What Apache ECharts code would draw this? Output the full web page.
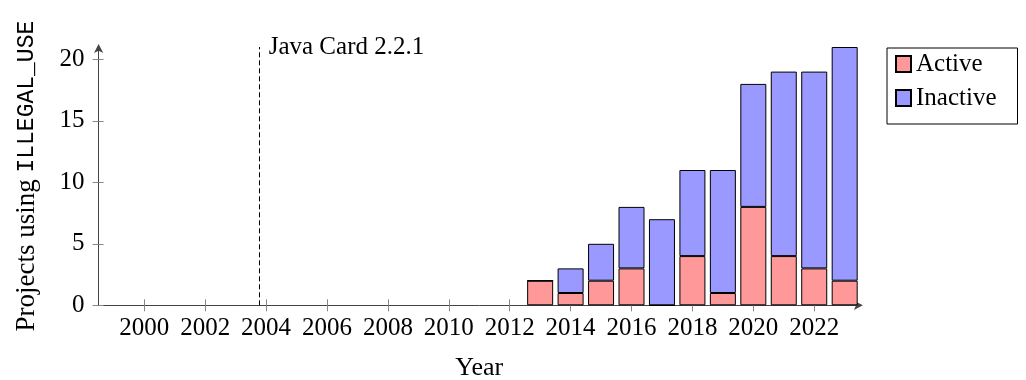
<!DOCTYPE html>
<html>
<head>
<meta charset="utf-8">
<script src="https://cdn.jsdelivr.net/npm/echarts@6/dist/echarts.min.js"></script>
<style>html,body{margin:0;padding:0;background:#fff}#c{width:1026px;height:380px}</style>
</head>
<body>
<div id="c"></div>
<script>
const categories = [1999, 2000, 2001, 2002, 2003, 2004, 2005, 2006, 2007, 2008, 2009, 2010, 2011,
                    2012, 2013, 2014, 2015, 2016, 2017, 2018, 2019, 2020, 2021, 2022, 2023];
const years = [2013, 2014, 2015, 2016, 2017, 2018, 2019, 2020, 2021, 2022, 2023];
const active = [2, 1, 2, 3, 0, 4, 1, 8, 4, 3, 2];
const inactive = [0, 2, 3, 5, 7, 7, 10, 10, 15, 16, 19];
const xTicks = [2000, 2002, 2004, 2006, 2008, 2010, 2012, 2014, 2016, 2018, 2020, 2022];
const yTicks = [0, 5, 10, 15, 20];
const eventYear = 2003.79;
const eventLabel = 'Java Card 2.2.1';

const SERIF = '"Liberation Serif", "DejaVu Serif", serif';
const MONO = '"Liberation Mono", "DejaVu Sans Mono", monospace';
const X_MIN = categories[0] - 0.5, X_MAX = categories[categories.length - 1] + 0.5, Y_MAX = 21;

const chart = echarts.init(document.getElementById('c'), null, {renderer: 'canvas'});
const align = arr => categories.map(c => { const i = years.indexOf(c); return i >= 0 ? arr[i] : '-'; });

const baseX = {type: 'value', min: X_MIN, max: X_MAX, gridIndex: 0, position: 'bottom', splitLine: {show: false}};
const baseY = {type: 'value', min: 0, max: Y_MAX, gridIndex: 0, position: 'left', splitLine: {show: false}};

chart.setOption({
  animation: false,
  backgroundColor: '#fff',
  grid: {left: 98.6, right: 1026 - 859.9, top: 47, bottom: 74.7, containLabel: false, outerBoundsMode: 'none'},
  legend: {
    orient: 'vertical', left: 887, top: 48,
    padding: [3, 21, 13, 8], itemGap: 8,
    itemWidth: 15, itemHeight: 16, icon: 'rect',
    borderColor: '#000', borderWidth: 1,
    textStyle: {fontFamily: SERIF, fontSize: 25, color: '#000', lineHeight: 26},
    data: ['Active', 'Inactive']
  },
  xAxis: [
    Object.assign({}, baseX, {
      name: 'Year', nameLocation: 'middle', nameGap: 50,
      nameTextStyle: {fontFamily: SERIF, fontSize: 26, color: '#000'},
      axisLine: {show: true, lineStyle: {color: '#444', width: 1}, symbol: ['none', 'arrow'], symbolSize: [7, 9], symbolOffset: [0, 3]},
      axisTick: {show: true, inside: false, length: 6, lineStyle: {color: '#888'}, customValues: xTicks},
      axisLabel: {show: true, margin: 11, fontFamily: SERIF, fontSize: 25, color: '#000', customValues: xTicks,
                  formatter: v => String(v)}
    }),
    Object.assign({}, baseX, {
      axisLine: {show: false},
      axisTick: {show: true, inside: true, length: 6, lineStyle: {color: '#888'}, customValues: xTicks},
      axisLabel: {show: false}
    }),
    {
      type: 'category', data: categories, gridIndex: 0, position: 'bottom', boundaryGap: true,
      axisLine: {show: false}, axisTick: {show: false}, axisLabel: {show: false}, splitLine: {show: false}
    }
  ],
  yAxis: [
    Object.assign({}, baseY, {
      name: '{a|Projects using }{b|ILLEGAL_USE}', nameLocation: 'middle', nameGap: 58, nameRotate: 90,
      nameTextStyle: {
        rich: {
          a: {fontFamily: SERIF, fontSize: 27, color: '#000'},
          b: {fontFamily: MONO, fontSize: 23, color: '#000'}
        }
      },
      axisLine: {show: true, lineStyle: {color: '#444', width: 1}, symbol: ['none', 'arrow'], symbolSize: [7, 9], symbolOffset: [0, 3]},
      axisTick: {show: true, inside: false, length: 6, lineStyle: {color: '#888'}, customValues: yTicks},
      axisLabel: {show: true, margin: 14, padding: [2, 0, 0, 0], fontFamily: SERIF, fontSize: 25, color: '#000', customValues: yTicks}
    }),
    Object.assign({}, baseY, {
      axisLine: {show: false},
      axisTick: {show: true, inside: true, length: 5, lineStyle: {color: '#888'}, customValues: yTicks},
      axisLabel: {show: false}
    })
  ],
  series: [
    {
      name: 'Active', type: 'bar', stack: 'total', xAxisIndex: 2, yAxisIndex: 0,
      barWidth: 26,
      itemStyle: {color: '#ff9999', borderColor: '#000', borderWidth: 1},
      data: align(active)
    },
    {
      name: 'Inactive', type: 'bar', stack: 'total', xAxisIndex: 2, yAxisIndex: 0,
      barWidth: 26,
      itemStyle: {color: '#9999ff', borderColor: '#000', borderWidth: 1},
      data: align(inactive)
    },
    {
      name: 'event', type: 'scatter', xAxisIndex: 0, yAxisIndex: 0, data: [],
      markLine: {
        silent: true, symbol: ['none', 'none'],
        label: {show: false},
        lineStyle: {color: '#000', type: [5, 3], width: 1},
        data: [{xAxis: eventYear}]
      },
      markPoint: {
        silent: true, symbol: 'rect', symbolSize: 0,
        label: {show: true, position: 'right', distance: 9, formatter: eventLabel,
                fontFamily: SERIF, fontSize: 25, color: '#000'},
        data: [{coord: [eventYear, Y_MAX]}]
      }
    }
  ]
});
</script>
</body>
</html>
